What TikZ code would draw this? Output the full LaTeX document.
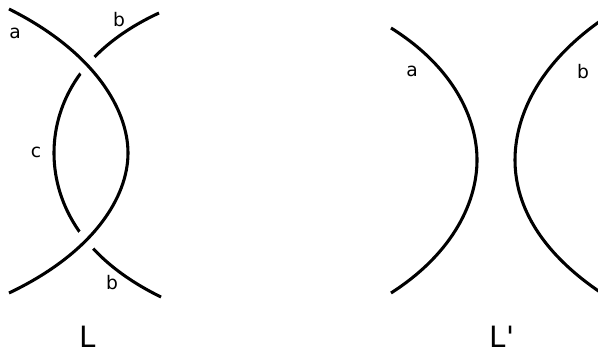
\documentclass[tikz,border=0pt]{standalone}
\usepackage{fontspec}
\newfontfamily\labelfont{DejaVu Sans}
\begin{document}
\begin{tikzpicture}[x=0.75pt, y=-0.75pt,
  every node/.style={font=\labelfont\fontsize{14}{16}\selectfont, inner sep=0pt},
  strand/.style={black, line width=2.3pt},
  halo/.style={white, line width=16pt},
  linkname/.style={font=\labelfont\fontsize{22}{26}\selectfont, anchor=base}]
  \useasboundingbox (0,0) rectangle (598,354);

  % Link L
  \coordinate (aTop) at (9,9);
  \coordinate (aMid) at (128,153);
  \coordinate (aBot) at (9,293);
  \coordinate (bTop) at (159,13);
  \coordinate (cMid) at (54,153);
  \coordinate (bBot) at (161,297);

  % under strand b -- c -- b
  \draw[strand] (bTop) .. controls (75,52) and (54,110) .. (cMid)
    .. controls (54,196) and (75,255) .. (bBot);
  % over strand a
  \draw[halo] (aTop) .. controls (95,52) and (128,110) .. (aMid)
    .. controls (128,196) and (95,252) .. (aBot);
  \draw[strand] (aTop) .. controls (95,52) and (128,110) .. (aMid)
    .. controls (128,196) and (95,252) .. (aBot);

  \node (la)  at (15,33)  {a};
  \node (lb1) at (119,20) {b};
  \node (lc)  at (36,152) {c};
  \node (lb2) at (112,283) {b};
  \node[linkname] (L) at (88,347) {L};

  % Link L'
  \coordinate (pTop) at (391,28);
  \coordinate (pMid) at (477,160);
  \coordinate (pBot) at (391,293);
  \coordinate (qTop) at (606,17);
  \coordinate (qMid) at (515,160);
  \coordinate (qBot) at (606,296);

  \draw[strand] (pTop) .. controls (455,68) and (477,120) .. (pMid)
    .. controls (477,200) and (455,252) .. (pBot);
  \draw[strand] (qTop) .. controls (535,65) and (515,120) .. (qMid)
    .. controls (515,200) and (535,250) .. (qBot);

  \node (pa) at (412,71) {a};
  \node (pb) at (583,72) {b};
  \node[linkname] (Lp) at (502,347) {L'};
\end{tikzpicture}
\end{document}
